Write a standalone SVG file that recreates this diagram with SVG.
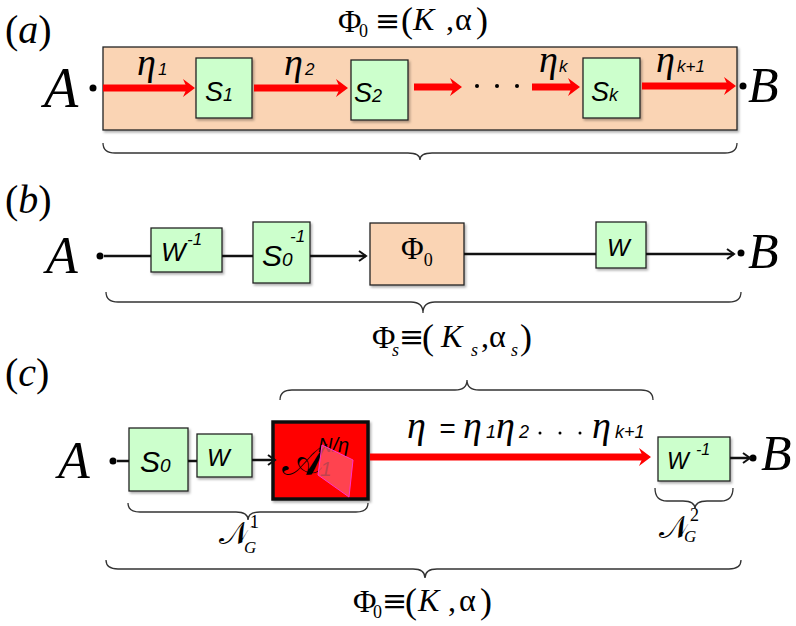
<svg xmlns="http://www.w3.org/2000/svg" width="796" height="626" viewBox="0 0 796 626">
<style>
.bg{fill:#ffffff}
.box{fill:#ccffcc;stroke:#222;stroke-width:1.3;filter:url(#sh)}
.peach{fill:#fad4b4;stroke:#222;stroke-width:1.3;filter:url(#sh)}
.redbox{fill:#ff0000;stroke:#111;stroke-width:3.5;filter:url(#sh)}
.red{stroke:#ff0000;stroke-width:7;fill:none;marker-end:url(#rh)}
.blk{stroke:#111;stroke-width:2.5;fill:none}
.blka{stroke:#111;stroke-width:2.5;fill:none;marker-end:url(#bh)}
.brace{stroke:#333;stroke-width:1.3;fill:none}
.m{font-family:"Liberation Serif","DejaVu Serif",serif;fill:#000}
.mi{font-family:"Liberation Serif","DejaVu Serif",serif;font-style:italic;fill:#000}
.eq{font-family:"DejaVu Serif",serif;fill:#000}
.s{font-family:"Liberation Sans",Arial,sans-serif;font-style:italic;fill:#000}
.dot{fill:#000}
</style>
<defs>
<filter id="sh" x="-10%" y="-10%" width="130%" height="130%">
<feDropShadow dx="1.5" dy="2" stdDeviation="0.8" flood-color="#000" flood-opacity="0.3"/>
</filter>
<marker id="rh" markerUnits="userSpaceOnUse" markerWidth="14" markerHeight="20" refX="6" refY="10" orient="auto">
<path d="M0,1 L12,10 L0,19 L4,10 Z" fill="#ff0000"/>
</marker>
<marker id="bh" markerUnits="userSpaceOnUse" markerWidth="10" markerHeight="12" refX="8" refY="6" orient="auto">
<path d="M1,1 L8,6 L1,11" fill="none" stroke="#111" stroke-width="2"/>
</marker>
</defs>
<rect class="bg" x="0" y="0" width="796" height="626"/>

<!-- Panel (a) -->
<g id="label-a"><text class="m" x="5" y="43" font-size="40">(<tspan class="mi">a</tspan>)</text></g>
<g id="title-a">
<text class="m" font-size="32"><tspan x="338" y="32">Φ</tspan><tspan x="359" y="37" font-size="18">0</tspan><tspan class="eq" x="375" y="31" font-size="30">≡</tspan><tspan x="401" y="32" font-size="36">(</tspan><tspan class="mi" x="413" y="30">K</tspan><tspan x="446" y="30">,</tspan><tspan x="455" y="30">α</tspan><tspan x="476" y="32" font-size="36">)</tspan></text>
</g>
<g id="phi0-a"><rect class="peach" x="103" y="47" width="634" height="83"/></g>
<g id="A-a"><text class="mi" x="44" y="107" font-size="56">A</text><circle class="dot" cx="93" cy="88" r="3.5"/></g>
<g id="B-a"><circle class="dot" cx="743" cy="86" r="3.5"/><text class="mi" x="748" y="102" font-size="50">B</text></g>
<g id="S1"><rect class="box" x="196" y="58" width="56" height="60"/><text class="s" x="205" y="101" font-size="27">S<tspan font-size="18">1</tspan></text></g>
<g id="S2"><rect class="box" x="351" y="60" width="57" height="60"/><text class="s" x="354" y="102" font-size="27">S<tspan font-size="18">2</tspan></text></g>
<g id="Sk"><rect class="box" x="583" y="58" width="57" height="60"/><text class="s" x="591" y="101" font-size="27">S<tspan font-size="18">k</tspan></text></g>
<g id="dots-a"><circle class="dot" cx="477" cy="86" r="2"/><circle class="dot" cx="497" cy="86" r="2"/><circle class="dot" cx="517" cy="86" r="2"/></g>

<!-- Panel (b) -->
<g id="label-b"><text class="m" x="5" y="213" font-size="40">(<tspan class="mi">b</tspan>)</text></g>
<g id="A-b"><text class="mi" x="46" y="273" font-size="52">A</text><circle class="dot" cx="100" cy="256" r="3.5"/></g>
<g id="Winv-b"><rect class="box" x="151" y="228" width="71" height="44"/><text class="s" x="161" y="261" font-size="26">W</text><text class="s" x="187" y="245" font-size="17">-1</text></g>
<g id="S0inv-b"><rect class="box" x="253" y="222" width="57" height="61"/><text class="s" x="262" y="266" font-size="30">S<tspan font-size="19">0</tspan></text><text class="s" x="290" y="242" font-size="17">-1</text></g>
<g id="phi0-b"><rect class="peach" x="370" y="223" width="94" height="62"/><text class="m" x="401" y="259" font-size="31">Φ<tspan font-size="18" dy="7">0</tspan></text></g>
<g id="W-b"><rect class="box" x="596" y="222" width="50" height="46"/><text class="s" x="607" y="256" font-size="24">W</text></g>
<g id="B-b"><circle class="dot" cx="741" cy="253" r="3.5"/><text class="mi" x="748" y="268" font-size="50">B</text></g>
<g id="title-b">
<text class="m" font-size="32"><tspan x="372" y="348">Φ</tspan><tspan class="mi" x="392" y="356" font-size="18">s</tspan><tspan class="eq" x="399" y="347" font-size="30">≡</tspan><tspan x="422" y="349" font-size="36">(</tspan><tspan class="mi" x="441" y="347">K</tspan><tspan class="mi" x="471" y="356" font-size="18">s</tspan><tspan x="481" y="347">,</tspan><tspan x="489" y="347">α</tspan><tspan class="mi" x="511" y="356" font-size="18">s</tspan><tspan x="520" y="349" font-size="36">)</tspan></text>
</g>

<!-- Panel (c) -->
<g id="label-c"><text class="m" x="5" y="386" font-size="40">(<tspan class="mi">c</tspan>)</text></g>
<g id="A-c"><text class="mi" x="58" y="478" font-size="52">A</text><circle class="dot" cx="113" cy="461" r="3.5"/></g>
<g id="S0-c"><rect class="box" x="129" y="428" width="59" height="63"/><text class="s" x="140" y="472" font-size="30">S<tspan font-size="19">0</tspan></text></g>
<g id="W-c"><rect class="box" x="197" y="434" width="55" height="43"/><text class="s" x="207" y="466" font-size="24">W</text></g>
<g id="Acal-c">
<rect class="redbox" x="273" y="422" width="95" height="77"/>
<text class="m" x="282" y="475" font-size="44">𝒜</text>
<text class="s" x="318" y="452" font-size="20">N/η</text>
<text class="s" x="320" y="476" font-size="21">1</text>
<polygon points="322,445 353,460 349,497 318,475" fill="#ff5a6a" fill-opacity="0.75" stroke="#ff33cc" stroke-width="1"/>
</g>
<g id="Winv-c"><rect class="box" x="658" y="437" width="72" height="44"/><text class="s" x="667" y="469" font-size="23">W</text><text class="s" x="696" y="455" font-size="16">-1</text></g>
<g id="B-c"><circle class="dot" cx="753" cy="458" r="3.5"/><text class="mi" x="761" y="470" font-size="50">B</text></g>
<g id="eta-c">
<text font-size="38"><tspan class="mi" x="407" y="438">η</tspan><tspan class="s" x="439" y="438" font-size="28" font-style="normal">=</tspan><tspan class="mi" x="463" y="438">η</tspan><tspan class="s" x="486" y="438" font-size="18">1</tspan><tspan class="mi" x="496" y="438">η</tspan><tspan class="s" x="519" y="438" font-size="18">2</tspan><tspan class="mi" x="592" y="438">η</tspan><tspan class="s" x="615" y="438" font-size="18">k+1</tspan></text>
<circle class="dot" cx="540" cy="433" r="1.5"/><circle class="dot" cx="560" cy="433" r="1.5"/><circle class="dot" cx="580" cy="433" r="1.5"/>
</g>
<g id="NG1"><text class="m" x="219" y="544" font-size="32">𝒩</text><text class="m" x="250" y="528" font-size="18">1</text><text class="mi" x="244" y="553" font-size="17">G</text></g>
<g id="NG2"><text class="m" x="659" y="538" font-size="32">𝒩</text><text class="m" x="690" y="521" font-size="18">2</text><text class="mi" x="684" y="542" font-size="17">G</text></g>
<g id="title-c">
<text class="m" font-size="32"><tspan x="353" y="612">Φ</tspan><tspan x="373" y="618" font-size="18">0</tspan><tspan class="eq" x="382" y="611" font-size="30">≡</tspan><tspan x="405" y="613" font-size="36">(</tspan><tspan class="mi" x="418" y="611">K</tspan><tspan x="448" y="611">,</tspan><tspan x="459" y="611">α</tspan><tspan x="480" y="613" font-size="36">)</tspan></text>
</g>

<!-- eta labels (a) -->
<g id="eta-a">
<text class="mi" x="137" y="75" font-size="38">η</text><text class="s" x="158" y="75" font-size="17">1</text>
<text class="mi" x="284" y="75" font-size="38">η</text><text class="s" x="305" y="75" font-size="17">2</text>
<text class="mi" x="539" y="72" font-size="38">η</text><text class="s" x="559" y="72" font-size="17">k</text>
<text class="mi" x="656" y="72" font-size="38">η</text><text class="s" x="677" y="72" font-size="17">k+1</text>
</g>

<g id="connectors">
<line class="red" x1="103" y1="88" x2="189" y2="88"/>
<line class="red" x1="254" y1="88" x2="342" y2="88"/>
<line class="red" x1="414" y1="87" x2="456" y2="87"/>
<line class="red" x1="532" y1="87" x2="574" y2="87"/>
<line class="red" x1="642" y1="86" x2="730" y2="86"/>

<line class="blk" x1="104" y1="256" x2="151" y2="256"/>
<line class="blk" x1="222" y1="256" x2="253" y2="256"/>
<line class="blka" x1="310" y1="256" x2="366" y2="256"/>
<line class="blk" x1="464" y1="254" x2="596" y2="254"/>
<line class="blka" x1="646" y1="254" x2="734" y2="254"/>

<line class="blk" x1="117" y1="461" x2="129" y2="461"/>
<line class="blk" x1="188" y1="461" x2="197" y2="461"/>
<line class="blka" x1="252" y1="460" x2="275" y2="460"/>
<line class="red" x1="370" y1="457" x2="645" y2="457"/>
<line class="blka" x1="730" y1="458" x2="750" y2="458"/>

<path class="brace" d="M103,143 Q103,153 115,153 L408,153 Q420,153 420,160 Q420,153 432,153 L725,153 Q737,153 737,143"/>
<path class="brace" d="M106,292 Q106,302 118,302 L411,302 Q423,302 423,313 Q423,302 435,302 L729,302 Q741,302 741,292"/>
<path class="brace" d="M280,400 Q280,390 292,390 L455,390 Q467,390 467,380 Q467,390 479,390 L641,390 Q653,390 653,400"/>
<path class="brace" d="M128,503 Q128,512 140,512 L236,512 Q248,512 248,520 Q248,512 260,512 L356,512 Q368,512 368,503"/>
<path class="brace" d="M655,488 Q655,501 667,501 L683,501 Q695,501 695,509 Q695,501 707,501 L721,501 Q733,501 733,488"/>
<path class="brace" d="M106,560 Q106,569 118,569 L413,569 Q425,569 425,578 Q425,569 437,569 L729,569 Q741,569 741,560"/>
</g>
</svg>
